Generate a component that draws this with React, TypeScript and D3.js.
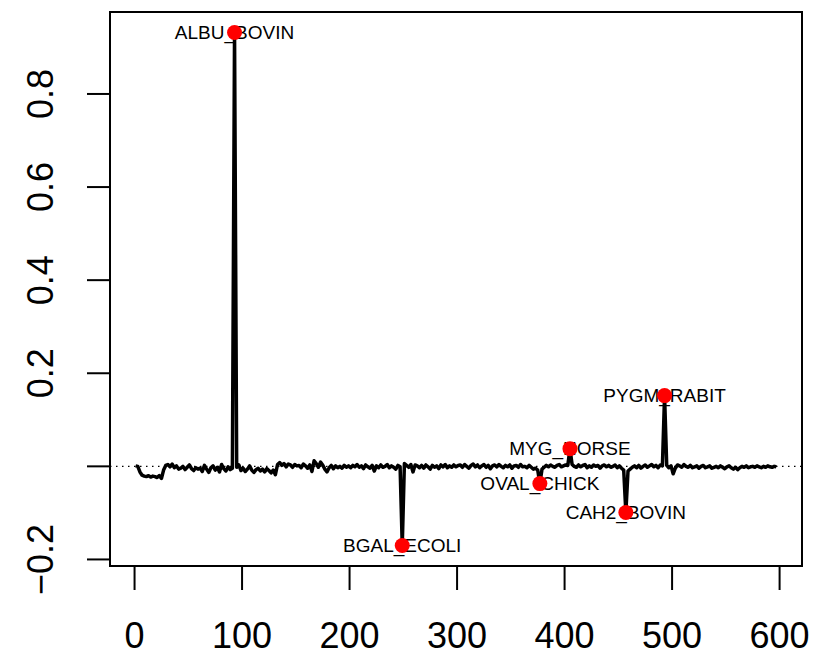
import React from "react";
import * as d3 from "d3";

// baseline trace, one value every 2 units starting at x = 1
const traceValues: number[] = [
  0.001, 0.000, -0.012,
  -0.019, -0.021, -0.022, -0.020, -0.023, -0.021, -0.022, -0.024, -0.020, -0.026,
  -0.008, 0.002, 0.004, -0.001, 0.005, -0.003, 0.001, -0.006, -0.004, 0.000, -0.007, -0.002, 0.003, -0.005, -0.009, -0.003, -0.006,
  -0.004, -0.011, 0.002, -0.006, -0.013, -0.003, 0.001, -0.008, -0.002, -0.012, 0.004, -0.005, -0.010, -0.001, -0.007, -0.004,
  -0.003,
  -0.002, 0.003, -0.009, -0.004, -0.011, -0.006, 0.001, -0.008, -0.013, -0.007, -0.004, -0.010, -0.006, -0.012, -0.005, -0.009, -0.014, -0.008, -0.018,
  0.004, 0.008, 0.002, 0.006, -0.001, 0.005, 0.003, -0.002, 0.004, 0.001,
  0.002, -0.003, 0.005, 0.001, -0.004, 0.003, -0.011, 0.012, 0.006, -0.002, 0.009, 0.003, -0.006, -0.012, -0.003, 0.002, -0.005, 0.001, -0.003, 0.000, -0.004, 0.002, -0.002, 0.001,
  -0.003, 0.002, -0.001, 0.004, -0.002, 0.001, -0.005, 0.003, -0.001, -0.004, 0.002, -0.010, 0.001, -0.003, 0.003, -0.002, 0.000, 0.004, -0.003, 0.001, -0.002, -0.006, 0.002, -0.001,
  -0.004,
  0.006, 0.002, -0.002, 0.004, -0.012, 0.003, 0.001, -0.003, 0.002, -0.004, 0.003, -0.001, -0.006, 0.002, -0.002, 0.001, -0.005, 0.003, -0.001, 0.004, -0.003, 0.001, -0.002, 0.003, -0.001, 0.002,
  0.003, -0.002, 0.004, 0.000, -0.004, 0.002, 0.005, -0.001, 0.003, -0.003, 0.001, 0.004, -0.002, 0.002, -0.005, 0.001, 0.003, -0.001, 0.004, 0.000, -0.003, 0.002, -0.001, 0.003, -0.004, 0.001, 0.002, -0.002, 0.004, -0.001, 0.000, -0.003, 0.002, -0.002, -0.006, -0.004, -0.008,
  -0.003,
  -0.006, -0.002, 0.002, -0.001, 0.003, 0.000, -0.002, 0.002, 0.004, -0.001, 0.001, 0.003, 0.002,
  0.001,
  0.004, 0.000, -0.002, 0.003, -0.001, 0.002, 0.004, -0.003, 0.001, -0.002, 0.003, 0.000, 0.002, -0.004, 0.001, 0.003, -0.001, 0.002, -0.002, 0.000, 0.003, -0.003, 0.001, -0.004, -0.008,
  -0.006,
  -0.010, -0.006, -0.002, 0.001, -0.003, 0.002, -0.004, 0.000, 0.003, -0.002, 0.001, 0.004, -0.001, 0.002, -0.003, 0.003, 0.001,
  0.001,
  0.002, -0.003, 0.001, -0.016, -0.004, 0.003, 0.001, -0.002, 0.004, 0.000,
  -0.002, 0.002, -0.003, -0.001, 0.001, -0.004, 0.000, 0.002, -0.003, -0.001,
  0.001, -0.004, -0.002, 0.000, -0.003, 0.001, -0.002, -0.005, -0.001, 0.001,
  -0.003, -0.006, -0.002, -0.007, -0.003, 0.000, -0.002, 0.001, -0.003, -0.001,
  0.000, -0.002, 0.001, -0.001, -0.003, 0.000, -0.002, 0.001, -0.001, -0.002,
  0.000, -0.001,
];

// labelled proteins
const peakNames = ["ALBU_BOVIN", "BGAL_ECOLI", "OVAL_CHICK", "MYG_HORSE", "CAH2_BOVIN", "PYGM_RABIT"];
const peakX = [93, 249, 377, 405, 457, 493];
const peakY = [0.932, -0.17, -0.037, 0.038, -0.099, 0.152];

const xTicks = [0, 100, 200, 300, 400, 500, 600];
const yTicks = [-0.2, 0, 0.2, 0.4, 0.6, 0.8];
const yTickLabels = ["\u22120.2", "", "0.2", "0.4", "0.6", "0.8"];

const W = 826;
const H = 657;
const box = { left: 110, right: 802, top: 12, bottom: 566 };
const font = "'Liberation Sans', Arial, Helvetica, sans-serif";

export default function App() {
  const peakSet = new Set(peakX);
  const pts: [number, number][] = traceValues
    .map((v, i) => [1 + 2 * i, v] as [number, number])
    .filter((p) => !peakSet.has(p[0]));
  peakX.forEach((x, i) => pts.push([x, peakY[i]]));
  pts.sort((a, b) => a[0] - b[0]);

  // R style 4% padding on both axes
  const [x0, x1] = d3.extent(pts, (d) => d[0]) as [number, number];
  const [y0, y1] = d3.extent(pts, (d) => d[1]) as [number, number];
  const px = (x1 - x0) * 0.04;
  const py = (y1 - y0) * 0.04;

  const x = d3.scaleLinear().domain([x0 - px, x1 + px]).range([box.left, box.right]);
  const y = d3.scaleLinear().domain([y0 - py, y1 + py]).range([box.bottom, box.top]);

  const line = d3
    .line<[number, number]>()
    .x((d) => x(d[0]))
    .y((d) => y(d[1]));

  return (
    <svg
      width={W}
      height={H}
      style={{ position: "absolute", left: 0, top: 0, background: "#fff" }}
      fontFamily={font}
    >
      {/* zero reference */}
      <line
        x1={box.left}
        x2={box.right}
        y1={y(0)}
        y2={y(0)}
        stroke="#000"
        strokeWidth={1.2}
        strokeDasharray="1.5,4.5"
      />
      <path d={line(pts) ?? ""} fill="none" stroke="#000" strokeWidth={3.5} strokeLinejoin="round" />

      {peakNames.map((n, i) => (
        <text
          key={n}
          x={x(peakX[i])}
          y={y(peakY[i]) + 6.8}
          textAnchor="middle"
          fontSize={19}
          fill="#000"
        >
          {n}
        </text>
      ))}
      {peakNames.map((n, i) => (
        <circle key={n + "-pt"} cx={x(peakX[i])} cy={y(peakY[i])} r={7.5} fill="#ff0000" />
      ))}

      {/* frame */}
      <rect
        x={box.left}
        y={box.top}
        width={box.right - box.left}
        height={box.bottom - box.top}
        fill="none"
        stroke="#000"
        strokeWidth={2}
      />

      {/* x axis */}
      <line x1={x(xTicks[0])} x2={x(xTicks[xTicks.length - 1])} y1={box.bottom} y2={box.bottom} stroke="#000" strokeWidth={2} />
      {xTicks.map((t) => (
        <g key={t}>
          <line x1={x(t)} x2={x(t)} y1={box.bottom} y2={box.bottom + 24} stroke="#000" strokeWidth={2} />
          <text x={x(t)} y={648} textAnchor="middle" fontSize={36} fill="#000">
            {t}
          </text>
        </g>
      ))}

      {/* y axis */}
      {yTicks.map((t, i) => (
        <g key={t}>
          <line x1={box.left - 23} x2={box.left} y1={y(t)} y2={y(t)} stroke="#000" strokeWidth={2} />
          <text
            transform={`translate(53,${y(t)}) rotate(-90)`}
            textAnchor="middle"
            fontSize={36}
            fill="#000"
          >
            {yTickLabels[i]}
          </text>
        </g>
      ))}
    </svg>
  );
}
